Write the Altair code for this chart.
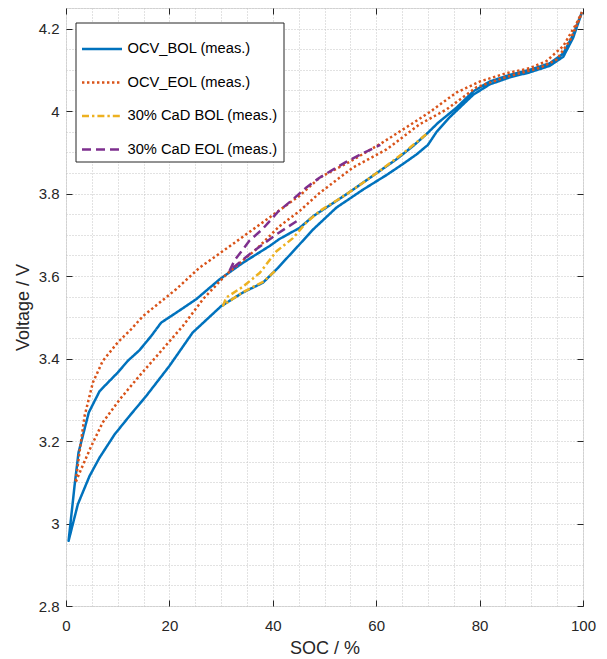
import altair as alt
import pandas as pd

FONT = "Liberation Sans"

names = ["OCV_BOL (meas.)", "OCV_EOL (meas.)", "30% CaD BOL (meas.)", "30% CaD EOL (meas.)"]
colors = ["#0072BD", "#D95319", "#EDB120", "#7E2F8E"]
dashes = [[1, 0], [2.4, 2.6], [7, 3, 2.4, 3], [9, 5]]

# OCV BOL: upper (charge) branch and lower (discharge) branch
bol_up_x = [0.5, 1.65, 2.42, 4.4, 6.5, 10.0, 12.0, 14.2, 16.5, 18.4, 21.3, 25.2, 29.7, 34.2, 39.4, 41.3,
            45.2, 47.8, 54.2, 60.7, 63.9, 67.1, 69.7, 72.0, 75.5, 78.8, 82.0, 85.9, 89.7, 93.6, 96.2, 98.1, 99.8]
bol_up_y = [2.958, 3.091, 3.172, 3.269, 3.321, 3.366, 3.395, 3.420, 3.455, 3.487, 3.511, 3.544, 3.592, 3.632,
            3.673, 3.690, 3.717, 3.745, 3.798, 3.855, 3.883, 3.915, 3.944, 3.972, 4.008, 4.048, 4.072, 4.088,
            4.100, 4.116, 4.140, 4.185, 4.240]
bol_dn_x = [0.5, 2.3, 4.55, 6.5, 9.4, 12.3, 15.5, 20.0, 24.5, 30.0, 34.2, 38.1, 40.7, 44.6, 47.8, 52.3, 57.5,
            62.0, 65.2, 67.8, 70.0, 71.7, 74.2, 78.8, 82.0, 85.9, 89.7, 93.6, 96.2, 98.1, 99.8]
bol_dn_y = [2.958, 3.047, 3.115, 3.160, 3.216, 3.261, 3.309, 3.382, 3.463, 3.527, 3.560, 3.584, 3.616, 3.669,
            3.713, 3.766, 3.810, 3.845, 3.872, 3.895, 3.918, 3.950, 3.985, 4.040, 4.065, 4.082, 4.094, 4.110,
            4.132, 4.178, 4.240]

# OCV EOL
eol_up_x = [1.84, 2.6, 3.6, 5.2, 7.1, 10.0, 12.6, 14.9, 21.3, 25.8, 32.3, 38.8, 45.2, 49.1, 55.0, 61.0, 66.0,
            70.4, 75.5, 80.1, 85.2, 89.7, 92.9, 96.2, 98.8, 99.8]
eol_up_y = [3.099, 3.172, 3.261, 3.342, 3.394, 3.439, 3.471, 3.503, 3.568, 3.620, 3.678, 3.737, 3.795, 3.839,
            3.878, 3.922, 3.962, 3.998, 4.045, 4.072, 4.092, 4.104, 4.121, 4.158, 4.214, 4.240]
eol_dn_x = [1.84, 2.9, 4.9, 7.1, 10.4, 14.2, 18.1, 22.6, 26.5, 31.0, 36.8, 41.3, 45.2, 49.1, 55.5, 62.0, 68.4,
            73.6, 79.4, 85.2, 91.7, 94.9, 97.5, 99.4, 99.8]
eol_dn_y = [3.099, 3.131, 3.188, 3.245, 3.301, 3.358, 3.414, 3.479, 3.544, 3.604, 3.665, 3.721, 3.758, 3.802,
            3.863, 3.907, 3.968, 4.004, 4.058, 4.083, 4.105, 4.125, 4.172, 4.226, 4.240]

# 30% CaD BOL (path order)
cad_bol_x = [40.4, 38.1, 34.2, 30.4, 31.0, 34.2, 37.5, 40.7, 43.9, 46.5, 49.1, 54.2, 60.7, 65.2, 69.7]
cad_bol_y = [3.612, 3.586, 3.561, 3.529, 3.548, 3.574, 3.608, 3.660, 3.692, 3.730, 3.758, 3.798, 3.855, 3.898, 3.944]

# 30% CaD EOL (path order)
cad_eol_x = [44.6, 40.7, 35.5, 32.3, 31.6, 32.6, 35.5, 38.1, 41.0, 43.9, 46.5, 49.1, 54.2, 58.1, 60.8]
cad_eol_y = [3.733, 3.701, 3.653, 3.620, 3.612, 3.638, 3.686, 3.715, 3.756, 3.786, 3.815, 3.839, 3.877, 3.902, 3.918]

rows = []


def add(name, xs, ys):
    for i, (x, y) in enumerate(zip(xs, ys)):
        rows.append({"series": name, "i": i, "soc": x, "v": y})


add(names[0], bol_up_x[::-1] + bol_dn_x[1:], bol_up_y[::-1] + bol_dn_y[1:])
add(names[1], eol_up_x[::-1] + eol_dn_x[1:], eol_up_y[::-1] + eol_dn_y[1:])
add(names[2], cad_bol_x, cad_bol_y)
add(names[3], cad_eol_x, cad_eol_y)
df = pd.DataFrame(rows)

W, H = 517, 598
xgrid = list(range(0, 101, 5))
ygrid = [round(2.8 + 0.05 * k, 2) for k in range(30)]
xmajor = list(range(0, 101, 20))
ymajor = [2.8, 3.0, 3.2, 3.4, 3.6, 3.8, 4.0, 4.2]

xmaj_test = "datum.value % 20 === 0"
ymaj_test = "abs(datum.value * 5 - round(datum.value * 5)) < 1e-6"
TICK = "#262626"

xscale = alt.Scale(domain=[0, 100], nice=False, zero=False)
yscale = alt.Scale(domain=[2.8, 4.25], nice=False, zero=False)

leg = alt.Legend(
    title=None, orient="none", legendX=9.5, legendY=14.5, direction="vertical",
    symbolType="stroke", symbolSize=1600, symbolStrokeWidth=2.5,
    labelFont=FONT, labelFontSize=14.7, labelColor="#000000", labelOffset=4,
    strokeColor="#262626", fillColor="white", padding=5, rowPadding=4.5, cornerRadius=0,
)

lines = alt.Chart(df).mark_line(strokeWidth=2.5, strokeCap="butt", strokeJoin="round", clip=True).encode(
    x=alt.X("soc:Q", scale=xscale, axis=alt.Axis(
        orient="bottom", values=xgrid, grid=True, gridDash=[1, 2], gridColor="#c4c4c4", gridWidth=1,
        domain=False, tickSize=alt.ExprRef("-6"), tickWidth=1,
        tickColor={"condition": {"test": xmaj_test, "value": TICK}, "value": "transparent"},
        labelExpr=xmaj_test + " ? datum.label : ''", labelOverlap=False, labelPadding=18, labelFlush=False,
        labelFont=FONT, labelFontSize=15, labelColor=TICK,
        title="SOC / %", titleFont=FONT, titleFontSize=18, titleFontWeight="normal", titleColor=TICK,
        titleBaseline="middle", titleY=42)),
    y=alt.Y("v:Q", scale=yscale, axis=alt.Axis(
        orient="left", values=ygrid, grid=True, gridDash=[1, 2], gridColor="#c4c4c4", gridWidth=1,
        domain=False, tickSize=alt.ExprRef("-6"), tickWidth=1,
        tickColor={"condition": {"test": ymaj_test, "value": TICK}, "value": "transparent"},
        labelExpr=ymaj_test + " ? format(datum.value, '.1~f') : ''", labelOverlap=False, labelPadding=13,
        labelFlush=False,
        labelFont=FONT, labelFontSize=15, labelColor=TICK,
        title="Voltage / V", titleFont=FONT, titleFontSize=18, titleFontWeight="normal", titleColor=TICK,
        titleBaseline="middle", titleX=-43)),
    color=alt.Color("series:N", scale=alt.Scale(domain=names, range=colors), legend=leg),
    strokeDash=alt.StrokeDash("series:N", scale=alt.Scale(domain=names, range=dashes), legend=leg),
    order=alt.Order("i:Q"),
    detail="series:N",
)

box_ticks = alt.Chart(df).mark_point(opacity=0).encode(
    x=alt.X("soc:Q", scale=xscale, axis=alt.Axis(
        orient="top", values=xmajor, grid=False, domain=False, labels=False, title=None,
        tickSize=alt.ExprRef("-6"), tickColor=TICK, tickWidth=1)),
    y=alt.Y("v:Q", scale=yscale, axis=alt.Axis(
        orient="right", values=ymajor, grid=False, domain=False, labels=False, title=None,
        tickSize=alt.ExprRef("-6"), tickColor=TICK, tickWidth=1)),
)

chart = alt.layer(lines, box_ticks).resolve_axis(x="independent", y="independent").properties(
    width=W, height=H,
    autosize=alt.AutoSizeParams(type="none"),
    padding={"left": 66, "top": 8, "right": 24, "bottom": 53},
).configure_view(stroke="#262626", strokeWidth=1).configure(background="white")

chart.save("out.html", embed_options={"renderer": "svg", "actions": False})
